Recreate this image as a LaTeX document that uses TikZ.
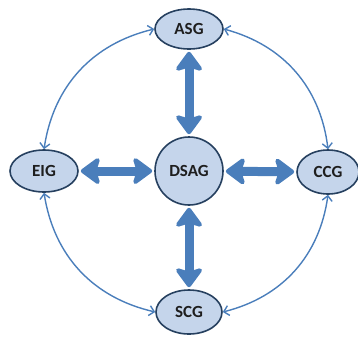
\documentclass[tikz,border=0pt]{standalone}
\usepackage{fontspec}
\setmainfont{Carlito}
\usetikzlibrary{shapes.geometric,arrows.meta}
\definecolor{nodefill}{HTML}{C5D5EB}
\definecolor{nodeline}{HTML}{26405F}
\definecolor{arrblue}{HTML}{4A7EBB}
\definecolor{txt}{HTML}{1E1E1E}
\tikzset{
  grp/.style={ellipse, draw=nodeline, line width=1.6pt, fill=nodefill, inner sep=0pt,
    text=txt, font=\fontsize{17}{17}\selectfont\bfseries},
  bigarrow/.style={draw=arrblue, line width=9pt,
    {Stealth[length=22pt,width=32pt,inset=5pt,round]}-{Stealth[length=22pt,width=32pt,inset=5pt,round]},
    shorten >=2pt, shorten <=2pt},
  ringarrow/.style={draw=arrblue, line width=1.4pt,
    {Straight Barb[length=5pt,width=10pt]}-{Straight Barb[length=5pt,width=10pt]}}
}
\begin{document}
\begin{tikzpicture}[x=1pt,y=-1pt]
\useasboundingbox (0,0) rectangle (358,338);
\node[grp, minimum width=68pt, minimum height=40pt] (asg) at (189,29) {ASG};
\node[grp, circle, minimum size=68pt] (dsag) at (189,171) {DSAG};
\node[grp, minimum width=68pt, minimum height=42pt] (eig) at (44,171) {EIG};
\node[grp, minimum width=62pt, minimum height=44pt] (ccg) at (328,172) {CCG};
\node[grp, minimum width=66pt, minimum height=44pt] (scg) at (189,312) {SCG};

\draw[bigarrow] (asg) -- (dsag);
\draw[bigarrow] (scg) -- (dsag);
\draw[bigarrow] (eig) -- (dsag);
\draw[bigarrow] (ccg) -- (dsag);

\draw[ringarrow] (asg.west) to[bend right=34] (eig.north);
\draw[ringarrow] (asg.east) to[bend left=34] (ccg.north);
\draw[ringarrow] (eig.south) to[bend right=34] (scg.west);
\draw[ringarrow] (ccg.south) to[bend left=34] (scg.east);
\end{tikzpicture}
\end{document}
